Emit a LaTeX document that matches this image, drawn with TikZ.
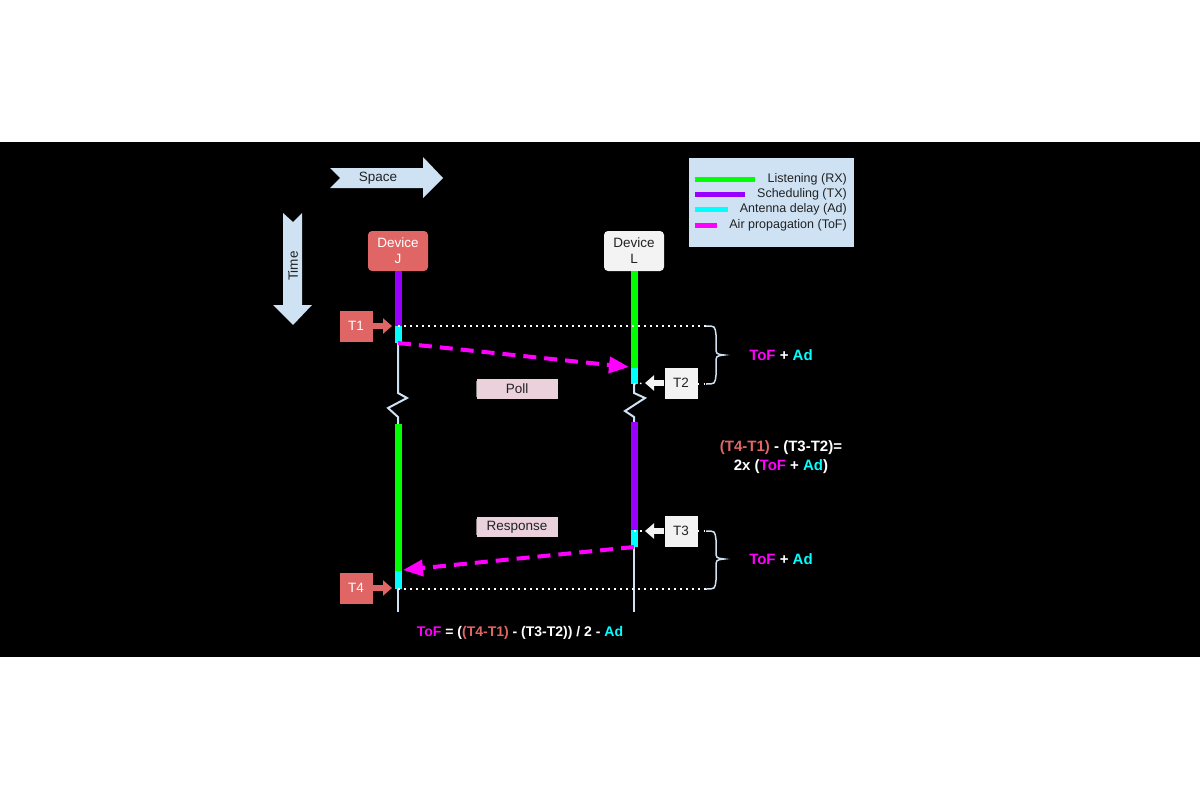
\documentclass[tikz,border=0pt]{standalone}
\usepackage{fontspec}
\setmainfont{Liberation Sans}
\usetikzlibrary{arrows.meta}
\definecolor{lblue}{HTML}{CFE2F3}
\definecolor{tred}{HTML}{E06666}
\definecolor{lgrey}{HTML}{F3F3F3}
\definecolor{pinkl}{HTML}{EAD1DC}
\definecolor{rxg}{HTML}{00FF00}
\definecolor{txp}{HTML}{9900FF}
\definecolor{adc}{HTML}{00FFFF}
\definecolor{tofm}{HTML}{FF00FF}
\definecolor{dtext}{HTML}{222222}
\tikzset{
  txt/.style={font=\fontsize{13.5}{16}\selectfont, inner sep=0pt, text=dtext},
  dev/.style={rounded corners=4pt, minimum width=60pt, minimum height=40pt, align=center, font=\fontsize{13.5}{16}\selectfont, inner sep=0pt},
  tbox/.style={minimum width=33pt, minimum height=31pt, inner sep=0pt, font=\fontsize{13.5}{16}\selectfont},
  seg/.style={line width=7pt},
  life/.style={lblue, line width=2pt},
  dots/.style={white, line width=1.5pt, dash pattern=on 1.5pt off 4.5pt},
  brc/.style={lblue, line width=1.5pt},
  tof/.style={tofm, line width=4pt, dash pattern=on 13pt off 8pt, -{Triangle[length=20pt,width=16pt]}},
  tarrow/.style={line width=6.5pt, -{Triangle[length=9pt,width=15pt]}},
  msg/.style={fill=pinkl, minimum width=81pt, minimum height=20pt, inner sep=0pt, font=\fontsize{13.5}{16}\selectfont, text=dtext},
  eq/.style={font=\bfseries\fontsize{15}{19}\selectfont, text=white, align=center, inner sep=0pt},
  feq/.style={font=\bfseries\fontsize{14}{17}\selectfont, text=white, inner sep=0pt},
  leg/.style={font=\fontsize{12.5}{15}\selectfont, anchor=east, inner sep=0pt, text=dtext},
  legline/.style={line width=5pt},
}
\begin{document}
\begin{tikzpicture}[x=1pt,y=-1pt]
\useasboundingbox (0,0) rectangle (1200,800);
\fill[white] (0,0) rectangle (1200,800);
\fill[black] (0,142) rectangle (1200,657);

% Space arrow
\fill[lblue] (330,168) -- (423,168) -- (423,157) -- (443,178) -- (423,198) -- (423,188) -- (330,188) -- (340,178) -- cycle;
\node[txt] (space) at (378,178) {Space};
% Time arrow
\fill[lblue] (283,213) -- (293,222) -- (302,213) -- (302,305) -- (312,305) -- (293,325) -- (273,305) -- (283,305) -- cycle;
\node[txt, rotate=90] (time) at (293,266) {Time};

% Legend
\node[draw=black, fill=lblue, minimum width=166pt, minimum height=90pt, inner sep=0pt] (legend) at (771,202) {};
\coordinate (lg1) at (695,179);
\coordinate (lg2) at (695,194);
\coordinate (lg3) at (695,209);
\coordinate (lg4) at (695,225);
\draw[legline, rxg] (lg1) -- ++(60,0);
\draw[legline, txp] (lg2) -- ++(50,0);
\draw[legline, adc] (lg3) -- ++(33,0);
\draw[legline, tofm] (lg4) -- ++(22,0);
\node[leg] (l1) at (847,179) {Listening (RX)};
\node[leg] (l2) at (847,194) {Scheduling (TX)};
\node[leg] (l3) at (847,209) {Antenna delay (Ad)};
\node[leg] (l4) at (847,225) {Air propagation (ToF)};

% Devices
\node[dev, fill=tred, text=white] (J) at (398,251) {Device\\J};
\node[dev, fill=lgrey, text=dtext] (L) at (634,251) {Device\\L};

% Lifeline J
\coordinate (j1) at (398,326);
\coordinate (j2) at (398,343);
\coordinate (j3) at (398,424);
\coordinate (j4) at (398,571);
\coordinate (j5) at (398,589);
\coordinate (j6) at (398,612);
\draw[seg, txp] (J.south) -- (j1);
\draw[seg, adc] (j1) -- (j2);
\draw[life] (j2) -- (398,393) -- (407,398) -- (388,408) -- (398,417) -- (j3);
\draw[seg, rxg] (j3) -- (j4);
\draw[seg, adc] (j4) -- (j5);
\draw[life] (j5) -- (j6);

% Lifeline L
\coordinate (k1) at (634,368);
\coordinate (k2) at (634,384);
\coordinate (k3) at (634,422);
\coordinate (k4) at (634,530);
\coordinate (k5) at (634,547);
\coordinate (k6) at (634,612);
\draw[seg, rxg] (L.south) -- (k1);
\draw[seg, adc] (k1) -- (k2);
\draw[life] (k2) -- (634,393) -- (645,398) -- (625,411) -- (634,417) -- (k3);
\draw[seg, txp] (k3) -- (k4);
\draw[seg, adc] (k4) -- (k5);
\draw[life] (k5) -- (k6);

% Time stamp boxes
\node[tbox, fill=tred, text=white] (T1) at (356,326) {T1};
\node[tbox, fill=tred, text=white] (T4) at (356,588) {T4};
\node[tbox, fill=lgrey, text=dtext] (T2) at (681,383) {T2};
\node[tbox, fill=lgrey, text=dtext] (T3) at (681,531) {T3};
\coordinate (a1) at (392,326);
\coordinate (a4) at (392,588);
\coordinate (a2) at (645,383);
\coordinate (a3) at (645,531);
\draw[tarrow, tred] (T1.east) -- (a1);
\draw[tarrow, tred] (T4.east) -- (a4);
\draw[tarrow, lgrey] (T2.west) -- (a2);
\draw[tarrow, lgrey] (T3.west) -- (a3);

% Dotted lines and braces
\coordinate (b1) at (706,326);
\coordinate (b2) at (706,384);
\coordinate (b3) at (706,531);
\coordinate (b4) at (706,589);
\draw[dots] (j1) -- (b1);
\draw[dots] (T2.east |- b2) -- (b2);
\draw[dots] (k2) -- (a2);
\draw[dots] (T3.east |- b3) -- (b3);
\draw[dots] (k4 |- a3) -- (a3);
\draw[dots] (j5) -- (b4);
\draw[brc] (b1) .. controls (715,326) .. (716,335) -- (716,347) .. controls (716,354) .. (724,355) .. controls (716,356) .. (716,363) -- (716,375) .. controls (715,384) .. (b2);
\draw[brc] (b3) .. controls (715,531) .. (716,540) -- (716,551) .. controls (716,558) .. (724,559) .. controls (716,560) .. (716,567) -- (716,580) .. controls (715,589) .. (b4);

% Messages
\draw[tof] (j2) -- (629,367);
\draw[tof] (k5) -- (403,570);
\node[msg] (poll) at (517,389) {Poll};
\draw[gray, line width=1pt] ([yshift=-2pt]poll.north west) -- ([yshift=2pt]poll.south west);
\node[msg] (resp) at (517,527) {Response};
\draw[gray, line width=1pt] ([yshift=-2pt]resp.north west) -- ([yshift=2pt]resp.south west);

% Equations
\node[eq] (e1) at (781,355) {\textcolor{tofm}{ToF} + \textcolor{adc}{Ad}};
\node[eq] (e2) at (781,559) {\textcolor{tofm}{ToF} + \textcolor{adc}{Ad}};
\node[eq] (e3) at (781,457) {\textcolor{tred}{(T4-T1)} - (T3-T2)=\\2x (\textcolor{tofm}{ToF} + \textcolor{adc}{Ad})};
\node[feq] (e4) at (520,633) {\textcolor{tofm}{ToF} = (\textcolor{tred}{(T4-T1)} - (T3-T2)) / 2 - \textcolor{adc}{Ad}};
\end{tikzpicture}
\end{document}
